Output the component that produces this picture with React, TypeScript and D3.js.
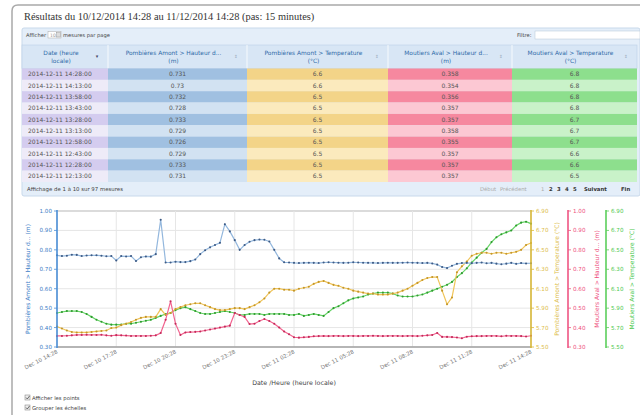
import React, { useEffect, useRef } from "react";
import * as d3 from "d3";

// 97 mesures, pas de 15 minutes
const startTime = new Date(2014, 11, 10, 14, 28);
const stepMinutes = 15;

const hauteurAmont = [
  0.772, 0.768, 0.77, 0.775, 0.774, 0.768, 0.771, 0.772, 0.772, 0.77,
  0.767, 0.768, 0.745, 0.768, 0.766, 0.768, 0.743, 0.762, 0.766, 0.765,
  0.778, 0.955, 0.735, 0.735, 0.739, 0.737, 0.737, 0.742, 0.75, 0.778,
  0.798, 0.813, 0.825, 0.836, 0.932, 0.895, 0.85, 0.8, 0.825, 0.842,
  0.85, 0.853, 0.852, 0.843, 0.8, 0.756, 0.736, 0.735, 0.733, 0.732,
  0.733, 0.734, 0.733, 0.732, 0.735, 0.736, 0.735, 0.734, 0.733, 0.734,
  0.736, 0.735, 0.734, 0.733, 0.733, 0.732, 0.733, 0.734, 0.733, 0.733,
  0.734, 0.735, 0.734, 0.733, 0.732, 0.733, 0.73, 0.724, 0.712, 0.706,
  0.718, 0.728, 0.732, 0.733, 0.731, 0.733, 0.735, 0.731, 0.733, 0.729,
  0.726, 0.729, 0.733, 0.728, 0.732, 0.73, 0.731,
];

const tempAmont = [
  5.71, 5.69, 5.67, 5.655, 5.65, 5.65, 5.65, 5.655, 5.66, 5.665,
  5.67, 5.695, 5.7, 5.725, 5.74, 5.757, 5.78, 5.8, 5.81, 5.81,
  5.81, 5.89, 5.83, 5.85, 5.89, 5.91, 5.93, 5.94, 5.95, 5.95,
  5.93, 5.91, 5.89, 5.88, 5.88, 5.89, 5.9, 5.9, 5.89, 5.91,
  5.93, 5.96, 6.0, 6.06, 6.1, 6.1, 6.09, 6.09, 6.08, 6.1,
  6.11, 6.12, 6.15, 6.17, 6.18, 6.16, 6.14, 6.13, 6.11, 6.1,
  6.08, 6.07, 6.06, 6.05, 6.05, 6.04, 6.04, 6.04, 6.05, 6.06,
  6.08, 6.1, 6.13, 6.16, 6.19, 6.21, 6.22, 6.22, 6.08, 5.94,
  6.01, 6.27, 6.33, 6.38, 6.44, 6.46, 6.47, 6.47, 6.46, 6.47,
  6.47, 6.46, 6.47, 6.48, 6.5, 6.55, 6.57,
];

const hauteurAval = [
  0.357, 0.357, 0.358, 0.36, 0.362, 0.362, 0.363, 0.362, 0.362, 0.363,
  0.36, 0.358, 0.361, 0.36, 0.359, 0.357, 0.357, 0.357, 0.357, 0.358,
  0.36, 0.372, 0.44, 0.535, 0.42, 0.362, 0.375, 0.377, 0.378, 0.38,
  0.385, 0.39, 0.395, 0.4, 0.405, 0.41, 0.475, 0.465, 0.455, 0.418,
  0.42, 0.434, 0.444, 0.434, 0.42, 0.4, 0.38, 0.366, 0.35, 0.348,
  0.35, 0.352, 0.355, 0.356, 0.357, 0.356, 0.357, 0.357, 0.356, 0.357,
  0.357, 0.356, 0.357, 0.357, 0.358, 0.357, 0.356, 0.357, 0.357, 0.357,
  0.356, 0.357, 0.357, 0.356, 0.358, 0.36, 0.362, 0.372, 0.352, 0.352,
  0.351, 0.349, 0.345, 0.353, 0.355, 0.356, 0.356, 0.357, 0.357, 0.357,
  0.355, 0.358, 0.357, 0.357, 0.356, 0.354, 0.358,
];

const tempAval = [
  5.85, 5.86, 5.87, 5.87, 5.87, 5.86, 5.84, 5.81, 5.78, 5.76,
  5.74, 5.73, 5.73, 5.73, 5.74, 5.74, 5.75, 5.76, 5.77, 5.78,
  5.8, 5.82, 5.84, 5.85, 5.88, 5.9, 5.91, 5.89, 5.87, 5.85,
  5.84, 5.84, 5.85, 5.86, 5.87, 5.86, 5.85, 5.83, 5.83, 5.84,
  5.84, 5.84, 5.83, 5.84, 5.84, 5.84, 5.84, 5.83, 5.83, 5.84,
  5.82, 5.83, 5.84, 5.83, 5.82, 5.86, 5.9, 5.92, 5.95, 5.98,
  6.0, 6.01, 6.02, 6.04, 6.05, 6.06, 6.06, 6.06, 6.05, 6.03,
  6.02, 6.02, 6.02, 6.03, 6.04, 6.06, 6.08, 6.1, 6.12, 6.14,
  6.17, 6.22, 6.26, 6.31, 6.37, 6.42, 6.47, 6.51, 6.58, 6.63,
  6.66, 6.68, 6.7, 6.75, 6.78, 6.79, 6.77,
];

const xTickLabels = [
  "Dec 10 14:28", "Dec 10 17:28", "Dec 10 20:28", "Dec 10 23:28", "Dec 11 02:28",
  "Dec 11 05:28", "Dec 11 08:28", "Dec 11 11:28", "Dec 11 14:28",
];
const hauteurTicks = [0.3, 0.4, 0.5, 0.6, 0.7, 0.8, 0.9, 1.0];
const tempTicks = [5.5, 5.7, 5.9, 6.1, 6.3, 6.5, 6.7, 6.9];

// tableau (page 1)
const tableDates = [
  "2014-12-11 14:28:00", "2014-12-11 14:13:00", "2014-12-11 13:58:00", "2014-12-11 13:43:00",
  "2014-12-11 13:28:00", "2014-12-11 13:13:00", "2014-12-11 12:58:00", "2014-12-11 12:43:00",
  "2014-12-11 12:28:00", "2014-12-11 12:13:00",
];
const tableHauteurAmont = ["0.731", "0.73", "0.732", "0.728", "0.733", "0.729", "0.726", "0.729", "0.733", "0.731"];
const tableTempAmont = ["6.6", "6.6", "6.5", "6.5", "6.5", "6.5", "6.5", "6.5", "6.5", "6.5"];
const tableHauteurAval = ["0.358", "0.354", "0.356", "0.357", "0.357", "0.358", "0.355", "0.357", "0.357", "0.357"];
const tableTempAval = ["6.8", "6.8", "6.8", "6.8", "6.7", "6.7", "6.7", "6.6", "6.6", "6.5"];
const tableHeaders = [
  ["Date (heure", "locale)"],
  ["Pombières Amont > Hauteur d...", "(m)"],
  ["Pombières Amont > Temperature", "(°C)"],
  ["Moutiers Aval > Hauteur d...", "(m)"],
  ["Moutiers Aval > Temperature", "(°C)"],
];

const sans = "'DejaVu Sans', Verdana, sans-serif";

const App = () => {
  const ref = useRef<SVGSVGElement | null>(null);

  useEffect(() => {
    if (!ref.current) return;
    const svg = d3.select(ref.current);
    svg.selectAll("*").remove();

    // cadre
    svg.append("path")
      .attr("d", "M12,415 L12,11 Q12,5 18,5 L640,5")
      .attr("fill", "none").attr("stroke", "#a9a9a9").attr("stroke-width", 1.5);

    svg.append("text").attr("x", 24).attr("y", 19.5)
      .attr("font-family", "'Liberation Serif', Georgia, serif").attr("font-size", 10.4).attr("fill", "#333")
      .text("Résultats du 10/12/2014 14:28 au 11/12/2014 14:28 (pas: 15 minutes)");

    // ---- tableau
    const colX = [22, 108, 247, 388, 512, 637];
    const rowTop = 68.5;
    const rowH = 11.35;
    const fills = [
      ["#d4ccef", "#eeebf8"],
      ["#a0c0e1", "#d2e2f2"],
      ["#f3d488", "#fbeabd"],
      ["#f6889f", "#fcc8d3"],
      ["#8ddf8d", "#c9f2c9"],
    ];
    const cols = [tableDates, tableHauteurAmont, tableTempAmont, tableHauteurAval, tableTempAval];

    svg.append("rect").attr("x", 22).attr("y", 28).attr("width", 618).attr("height", 168)
      .attr("fill", "#e4eef9").attr("stroke", "#c8d9eb").attr("rx", 2);
    svg.append("text").attr("x", 26).attr("y", 36.5).attr("font-family", sans).attr("font-size", 5.2).attr("fill", "#444").text("Afficher");
    svg.append("rect").attr("x", 48).attr("y", 31.5).attr("width", 13).attr("height", 6.5).attr("fill", "#fff").attr("stroke", "#aaa").attr("stroke-width", 0.5);
    svg.append("text").attr("x", 50).attr("y", 36.5).attr("font-family", sans).attr("font-size", 4.6).attr("fill", "#999").text("10");
    svg.append("rect").attr("x", 56.5).attr("y", 32.5).attr("width", 4).attr("height", 4.5).attr("fill", "#ddd").attr("stroke", "#888").attr("stroke-width", 0.4);
    svg.append("text").attr("x", 63).attr("y", 36.5).attr("font-family", sans).attr("font-size", 5.2).attr("fill", "#444").text("mesures par page");
    svg.append("text").attr("x", 517).attr("y", 36.5).attr("font-family", sans).attr("font-size", 5.2).attr("fill", "#444").text("Filtre:");
    svg.append("rect").attr("x", 535).attr("y", 31).attr("width", 105).attr("height", 8).attr("fill", "#fff").attr("stroke", "#b5c5d5").attr("stroke-width", 0.5);

    // en-têtes
    svg.append("rect").attr("x", 22).attr("y", 45).attr("width", 615).attr("height", 23.5)
      .attr("fill", "#d8e6f5").attr("stroke", "#bcd0e6").attr("stroke-width", 0.6);
    tableHeaders.forEach((h, c) => {
      const cx = (colX[c] + colX[c + 1]) / 2 - 4;
      if (c > 0) {
        svg.append("line").attr("x1", colX[c]).attr("x2", colX[c]).attr("y1", 45).attr("y2", 68.5)
          .attr("stroke", "#fff").attr("stroke-width", 0.8);
      }
      h.forEach((line, k) => {
        svg.append("text").attr("x", cx).attr("y", 54.5 + k * 8).attr("text-anchor", "middle")
          .attr("font-family", sans).attr("font-size", 5.9).attr("fill", "#2e6aa8").text(line);
      });
      svg.append("text").attr("x", colX[c + 1] - 11).attr("y", 58).attr("text-anchor", "middle")
        .attr("font-family", sans).attr("font-size", c === 0 ? 5 : 4.5).attr("fill", c === 0 ? "#446" : "#9ab")
        .text(c === 0 ? "▾" : "⇕");
    });

    // lignes
    cols.forEach((vals, c) => {
      vals.forEach((v, r) => {
        const y = rowTop + r * rowH;
        svg.append("rect").attr("x", colX[c]).attr("y", y).attr("width", colX[c + 1] - colX[c]).attr("height", rowH)
          .attr("fill", fills[c][r % 2]);
        svg.append("text")
          .attr("x", c === 0 ? colX[c] + 6 : (colX[c] + colX[c + 1]) / 2)
          .attr("y", y + rowH / 2 + 2.1)
          .attr("text-anchor", c === 0 ? "start" : "middle")
          .attr("font-family", sans).attr("font-size", 6).attr("fill", "#555").text(v);
      });
    });

    svg.append("text").attr("x", 27).attr("y", 191).attr("font-family", sans).attr("font-size", 5.4).attr("fill", "#444")
      .text("Affichage de 1 à 10 sur 97 mesures");
    const pager = [
      { t: "Début", x: 480, c: "#aaa", b: false },
      { t: "Précédent", x: 500, c: "#aaa", b: false },
      { t: "1", x: 541, c: "#aaa", b: false },
      { t: "2", x: 549, c: "#333", b: true },
      { t: "3", x: 557, c: "#333", b: true },
      { t: "4", x: 565, c: "#333", b: true },
      { t: "5", x: 573, c: "#333", b: true },
      { t: "Suivant", x: 584, c: "#333", b: true },
      { t: "Fin", x: 621, c: "#333", b: true },
    ];
    pager.forEach((p) => {
      svg.append("text").attr("x", p.x).attr("y", 191).attr("font-family", sans).attr("font-size", 5.3)
        .attr("font-weight", p.b ? "bold" : "normal").attr("fill", p.c).text(p.t);
    });

    // ---- graphique
    const left = 57, right = 531, top = 211, bottom = 347;
    const endTime = d3.timeMinute.offset(startTime, stepMinutes * (hauteurAmont.length - 1));
    const x = d3.scaleTime().domain([startTime, endTime]).range([left, right]);
    const yH = d3.scaleLinear().domain([0.3, 1.0]).range([bottom, top]);
    const yT = d3.scaleLinear().domain([5.5, 6.9]).range([bottom, top]);
    const times = hauteurAmont.map((_, i) => d3.timeMinute.offset(startTime, stepMinutes * i));
    const tickTimes = xTickLabels.map((_, k) => d3.timeHour.offset(startTime, 3 * k));

    const grid = svg.append("g");
    hauteurTicks.forEach((t) => {
      grid.append("line").attr("x1", left).attr("x2", right).attr("y1", yH(t)).attr("y2", yH(t))
        .attr("stroke", t === 1.0 ? "#cfcfcf" : "#e6e6e6").attr("stroke-width", t === 1.0 ? 1.5 : 1);
    });
    tickTimes.forEach((t) => {
      grid.append("line").attr("x1", x(t)).attr("x2", x(t)).attr("y1", top).attr("y2", bottom)
        .attr("stroke", "#e6e6e6");
    });
    svg.append("line").attr("x1", left).attr("x2", right).attr("y1", bottom).attr("y2", bottom)
      .attr("stroke", "#a0a0a0").attr("stroke-width", 1.5);

    const series = [
      { v: tempAval, y: yT, line: "#66d466", dot: "#2f9a2f" },
      { v: tempAmont, y: yT, line: "#f0c458", dot: "#c2962a" },
      { v: hauteurAval, y: yH, line: "#f2638f", dot: "#c42a5a" },
      { v: hauteurAmont, y: yH, line: "#93b7dd", dot: "#3d5a84" },
    ];
    series.forEach((s) => {
      const gen = d3.line<number>().x((_, i) => x(times[i])).y((d) => s.y(d));
      svg.append("path").datum(s.v).attr("d", gen).attr("fill", "none")
        .attr("stroke", s.line).attr("stroke-width", 1.2);
      svg.append("g").selectAll("circle").data(s.v).join("circle")
        .attr("cx", (_, i) => x(times[i])).attr("cy", (d) => s.y(d)).attr("r", 1.05)
        .attr("fill", s.dot);
    });

    // axes Y
    const yAxes = [
      { pos: left, scale: yH, ticks: hauteurTicks, side: -1, color: "#4a8ed6", text: "#3b7cc6", title: "Pombières Amont > Hauteur d... (m)", tx: 30 },
      { pos: right, scale: yT, ticks: tempTicks, side: 1, color: "#d8b838", text: "#dcbc48", title: "Pombières Amont > Temperature (°C)", tx: 559 },
      { pos: 568, scale: yH, ticks: hauteurTicks, side: 1, color: "#ef5583", text: "#ee4d7c", title: "Moutiers Aval > Hauteur d... (m)", tx: 599 },
      { pos: 606, scale: yT, ticks: tempTicks, side: 1, color: "#5ccf5c", text: "#4cc84c", title: "Moutiers Aval > Temperature (°C)", tx: 634 },
    ];
    yAxes.forEach((a) => {
      const g = svg.append("g");
      g.append("line").attr("x1", a.pos).attr("x2", a.pos).attr("y1", top - 1).attr("y2", bottom + 1)
        .attr("stroke", a.color).attr("stroke-width", 1.6);
      a.ticks.forEach((t) => {
        g.append("line").attr("x1", a.pos).attr("x2", a.pos + a.side * 3).attr("y1", a.scale(t)).attr("y2", a.scale(t))
          .attr("stroke", a.color).attr("stroke-width", 0.8);
        g.append("text").attr("x", a.pos + a.side * 5).attr("y", a.scale(t) + 2)
          .attr("text-anchor", a.side < 0 ? "end" : "start")
          .attr("font-family", sans).attr("font-size", 5.6).attr("fill", a.text)
          .text(d3.format(".2f")(t));
      });
      g.append("text").attr("transform", `translate(${a.tx},${(top + bottom) / 2}) rotate(-90)`)
        .attr("text-anchor", "middle").attr("font-family", sans).attr("font-size", 6)
        .attr("fill", a.text).text(a.title);
    });

    // axe X
    tickTimes.forEach((t, k) => {
      svg.append("text").attr("transform", `translate(${x(t) + 1},${bottom + 6}) rotate(-27)`)
        .attr("text-anchor", "end").attr("font-family", sans).attr("font-size", 5.4).attr("fill", "#777")
        .text(xTickLabels[k]);
    });
    svg.append("text").attr("x", 294).attr("y", 385).attr("text-anchor", "middle")
      .attr("font-family", sans).attr("font-size", 6.3).attr("fill", "#444").text("Date /Heure (heure locale)");

    // options
    ["Afficher les points", "Grouper les échelles"].forEach((t, k) => {
      const y = 395 + k * 10;
      svg.append("rect").attr("x", 25).attr("y", y).attr("width", 5).attr("height", 5)
        .attr("fill", "#eee").attr("stroke", "#777").attr("stroke-width", 0.5);
      svg.append("path").attr("d", `M26,${y + 2.5} L27.3,${y + 4} L29.5,${y + 1}`)
        .attr("fill", "none").attr("stroke", "#333").attr("stroke-width", 0.7);
      svg.append("text").attr("x", 32).attr("y", y + 4.5).attr("font-family", sans).attr("font-size", 5.3)
        .attr("fill", "#444").text(t);
    });
  }, []);

  return (
    <svg ref={ref} width={640} height={415}
      style={{ position: "absolute", left: 0, top: 0, background: "#fff", display: "block" }} />
  );
};

export default App;
